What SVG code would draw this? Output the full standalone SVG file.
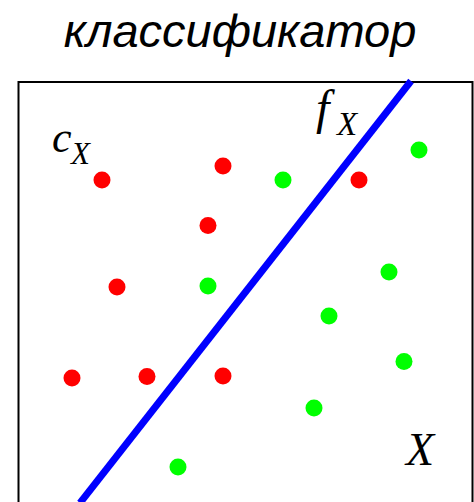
<svg xmlns="http://www.w3.org/2000/svg" width="474" height="502" viewBox="0 0 474 502">
<style>
.title{font-family:"Liberation Sans",Arial,sans-serif;font-style:italic;font-size:47px;fill:#000}
.m{font-family:"Liberation Serif","Times New Roman",serif;font-style:italic;fill:#000}
.r{fill:#ff0000}
.g{fill:#00ff00}
</style>
<rect width="474" height="502" fill="#fff"/>
<text class="title" x="240" y="47" text-anchor="middle">классификатор</text>
<g id="frame"><rect x="18.5" y="82" width="454" height="440" fill="none" stroke="#000" stroke-width="2"/></g>
<g id="connectors"><line id="fX-line" x1="411" y1="81" x2="80" y2="503" stroke="#0000ff" stroke-width="7"/></g>
<g id="red-points">
<circle class="r" cx="102" cy="180" r="8.5"/>
<circle class="r" cx="223" cy="166" r="8.5"/>
<circle class="r" cx="359" cy="180" r="8.5"/>
<circle class="r" cx="208" cy="225.5" r="8.5"/>
<circle class="r" cx="117" cy="287" r="8.5"/>
<circle class="r" cx="72" cy="378" r="8.5"/>
<circle class="r" cx="147" cy="376.5" r="8.5"/>
<circle class="r" cx="223" cy="376" r="8.5"/>
</g>
<g id="green-points">
<circle class="g" cx="283" cy="180" r="8.5"/>
<circle class="g" cx="419" cy="150" r="8.5"/>
<circle class="g" cx="208" cy="286" r="8.5"/>
<circle class="g" cx="389" cy="272" r="8.5"/>
<circle class="g" cx="329" cy="316" r="8.5"/>
<circle class="g" cx="404" cy="361.5" r="8.5"/>
<circle class="g" cx="314" cy="408" r="8.5"/>
<circle class="g" cx="178" cy="467" r="8.5"/>
</g>
<g id="label-cX"><text class="m" x="52" y="152" font-size="44">c</text><text class="m" x="71" y="164" font-size="31">X</text></g>
<g id="label-fX"><text class="m" x="316" y="124" font-size="48">f</text><text class="m" x="337" y="135" font-size="33">X</text></g>
<g id="label-X"><text class="m" x="406" y="465" font-size="46">X</text></g>
</svg>
